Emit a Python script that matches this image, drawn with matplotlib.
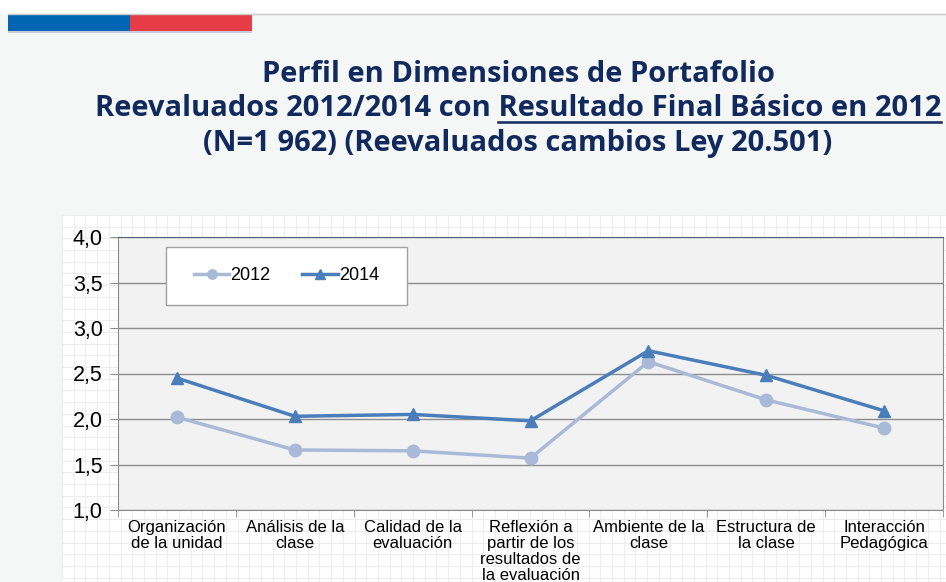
import matplotlib.pyplot as plt
import numpy as np

categories = ['Organización\nde la unidad', 'Análisis de la\nclase', 'Calidad de la\nevaluación',
              'Reflexión a\npartir de los\nresultados de\nla evaluación', 'Ambiente de la\nclase',
              'Estructura de\nla clase', 'Interacción\nPedagógica']
values_2012 = [2.02, 1.66, 1.65, 1.57, 2.63, 2.21, 1.90]
values_2014 = [2.45, 2.03, 2.05, 1.98, 2.75, 2.48, 2.09]
yticks = [1.0, 1.5, 2.0, 2.5, 3.0, 3.5, 4.0]

W, H = 946, 582
fig = plt.figure(figsize=(W / 100, H / 100), dpi=100)
fig.patch.set_facecolor('#f5f6f6')

def px(x0, y0, w, h):
    # pixel box (top-left origin) -> figure fraction rect
    return [x0 / W, 1 - (y0 + h) / H, w / W, h / H]

# slide header
bg = fig.add_axes([0, 0, 1, 1])
bg.set_xlim(0, W)
bg.set_ylim(H, 0)
bg.axis('off')
bg.add_patch(plt.Rectangle((0, 0), W, 14, color='white', lw=0))
bg.plot([8, W], [14, 14], color='#c8c8c8', lw=1)
bg.add_patch(plt.Rectangle((8, 15), 122, 16, color='#0066b3', lw=0))
bg.add_patch(plt.Rectangle((130, 15), 122, 16, color='#e63c46', lw=0))
bg.add_patch(plt.Rectangle((8, 31), 244, 2, color='#c9ccd6', lw=0))

# graph paper behind the chart
bg.add_patch(plt.Rectangle((62, 215), W - 62, H - 215, color='white', lw=0))
for gx in np.arange(62, W, 11.7):
    bg.plot([gx, gx], [215, H], color='#ededed', lw=0.8)
for gy in np.arange(215, H, 11.7):
    bg.plot([62, W], [gy, gy], color='#ededed', lw=0.8)

# title
navy = '#112a5e'
tfont = dict(family='Open Sans', weight='bold', size=21, color=navy, ha='center', va='center')
bg.text(518, 74, 'Perfil en Dimensiones de Portafolio', **tfont)
line2 = bg.text(518, 109, 'Reevaluados 2012/2014 con Resultado Final Básico en 2012', **tfont)
bg.text(518, 144, '(N=1 962) (Reevaluados cambios Ley 20.501)', **tfont)

r = fig.canvas.get_renderer()
bb = line2.get_window_extent(r)
tmp = bg.text(0, 0, 'Resultado Final Básico en 2012', **tfont)
sw = tmp.get_window_extent(r).width
tmp.remove()
x1 = bb.x1 * 100 / fig.dpi
x0 = (bb.x1 - sw) * 100 / fig.dpi
bg.plot([x0, x1], [122, 122], color=navy, lw=1.8)

# chart
ax = fig.add_axes(px(118, 237, 825, 273))
ax.set_facecolor('#f2f2f2')
x = np.arange(len(categories))
ax.plot(x, values_2012, color='#a9b9d8', lw=2.5, marker='o', ms=9, label='2012', zorder=3)
ax.plot(x, values_2014, color='#4a7ebb', lw=2.5, marker='^', ms=9, label='2014', zorder=3)

ax.set_xlim(-0.5, len(categories) - 0.5)
ax.set_ylim(1.0, 4.0)
ax.set_yticks(yticks)
ax.set_yticklabels([f'{v:.1f}'.replace('.', ',') for v in yticks],
                   fontsize=15.5, family='Liberation Sans')
ax.yaxis.grid(True, color='#8c8c8c', lw=1)
ax.set_axisbelow(True)
ax.set_xticks(x)
ax.set_xticklabels(categories, fontsize=12, family='Liberation Sans', va='top', linespacing=1.08)
ax.set_xticks(np.arange(-0.5, len(categories)), minor=True)
ax.tick_params(axis='x', which='major', length=0, pad=7)
ax.tick_params(axis='x', which='minor', length=5, color='#8c8c8c')
ax.tick_params(axis='y', length=6, color='#8c8c8c', pad=5)
for s in ['left', 'bottom', 'right']:
    ax.spines[s].set_color('#8c8c8c')
ax.spines['top'].set_color('#4f6079')

# legend box (drawn by hand so its size matches)
lx0, lx1, ly0, ly1 = 48 / 825, 289 / 825, 1 - 68 / 273, 1 - 10 / 273
ax.add_patch(plt.Rectangle((lx0, ly0), lx1 - lx0, ly1 - ly0, transform=ax.transAxes,
                           facecolor='white', edgecolor='#a0a0a0', lw=1, zorder=4))
leg = ax.legend(loc='center', bbox_to_anchor=((lx0 + lx1) / 2, (ly0 + ly1) / 2), ncol=2,
                frameon=False, prop={'family': 'Liberation Sans', 'size': 13},
                handlelength=1.95, handletextpad=0.08, columnspacing=1.75,
                borderpad=0, borderaxespad=0, markerscale=0.75)
leg.set_zorder(5)

fig.savefig('out.png', dpi=100, facecolor=fig.get_facecolor())
